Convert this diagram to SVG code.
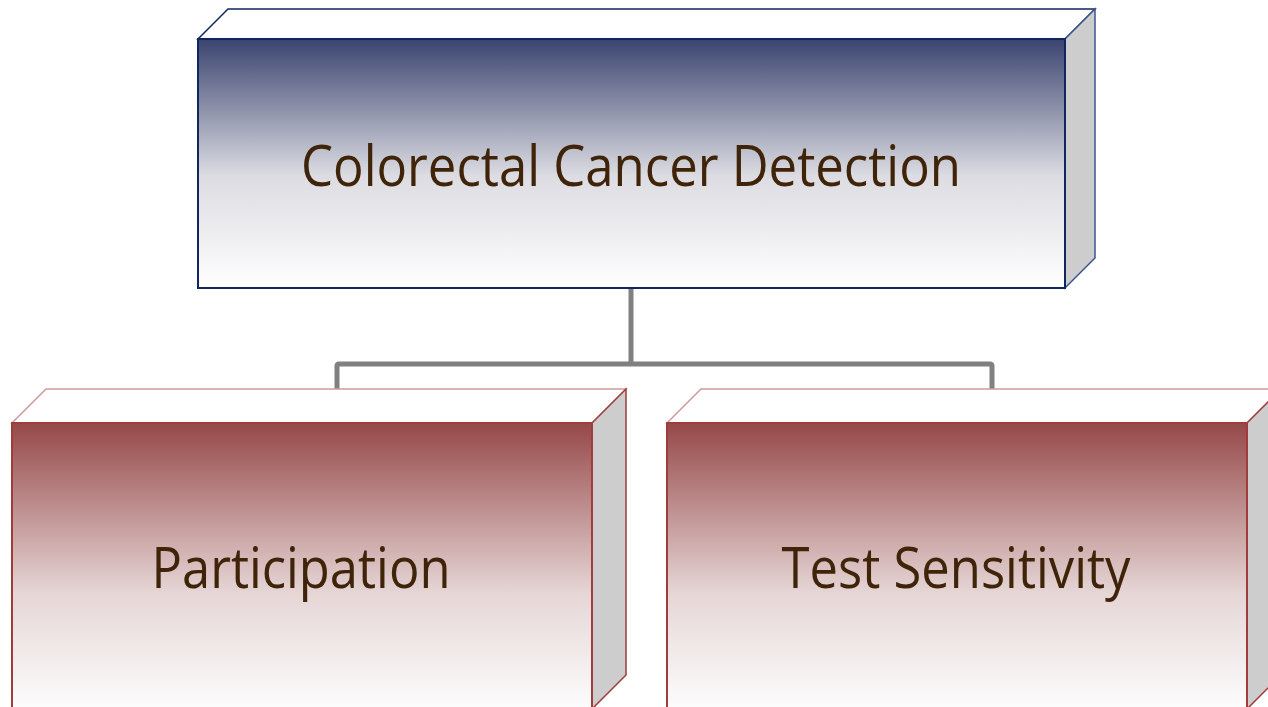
<svg xmlns="http://www.w3.org/2000/svg" width="1268" height="707" viewBox="0 0 1268 707">
<defs>
<linearGradient id="gBlue" x1="0" y1="0" x2="0" y2="1">
<stop offset="0" stop-color="#3a4470"/>
<stop offset="0.55" stop-color="#dcdce2"/>
<stop offset="1" stop-color="#ffffff"/>
</linearGradient>
<linearGradient id="gRed" x1="0" y1="423" x2="0" y2="707" gradientUnits="userSpaceOnUse">
<stop offset="0" stop-color="#964848"/>
<stop offset="0.6" stop-color="#e6d6d6"/>
<stop offset="1" stop-color="#fcfcfc"/>
</linearGradient>
<style>
.lbl{font-family:"Open Sans","Liberation Sans",sans-serif;fill:#3f2409;text-anchor:middle}
.side{fill:#cdcdcd}
.top{fill:#ffffff}
</style>
</defs>
<g id="connectors" fill="none" stroke="#808080" stroke-width="5" stroke-linejoin="round">
<line x1="631" y1="288" x2="631" y2="364"/>
<path d="M337 389 V366 Q337 364 339 364 H990 Q992 364 992 366 V389"/>
</g>
<g id="node-top">
<polygon class="top" points="198,39 228,9 1095,9 1065,39" stroke="#10265e" stroke-width="1.5"/>
<polygon class="side" points="1065,39 1095,9 1095,258 1065,288" stroke="#3a5590" stroke-width="1.5"/>
<rect x="198" y="39" width="867" height="249" fill="url(#gBlue)" stroke="#10265e" stroke-width="2"/>
<text class="lbl" x="631" y="186" font-size="56" textLength="660" lengthAdjust="spacingAndGlyphs">Colorectal Cancer Detection</text>
</g>
<g id="node-participation">
<polygon class="top" points="12,423 46,389 626,389 592,423" stroke="#cf9a9a" stroke-width="1.5"/>
<polygon class="side" points="592,423 626,389 626,675 592,709" stroke="#a03c3c" stroke-width="1.5"/>
<rect x="12" y="423" width="580" height="290" fill="url(#gRed)" stroke="#a03c3c" stroke-width="2"/>
<text class="lbl" x="301" y="588" font-size="56" textLength="299" lengthAdjust="spacingAndGlyphs">Participation</text>
</g>
<g id="node-sensitivity">
<polygon class="top" points="667,423 701,389 1281,389 1247,423" stroke="#cf9a9a" stroke-width="1.5"/>
<polygon class="side" points="1247,423 1281,389 1281,675 1247,709" stroke="#a03c3c" stroke-width="1.5"/>
<rect x="667" y="423" width="580" height="290" fill="url(#gRed)" stroke="#a03c3c" stroke-width="2"/>
<text class="lbl" x="956" y="588" font-size="56" textLength="349" lengthAdjust="spacingAndGlyphs">Test Sensitivity</text>
</g>
</svg>
